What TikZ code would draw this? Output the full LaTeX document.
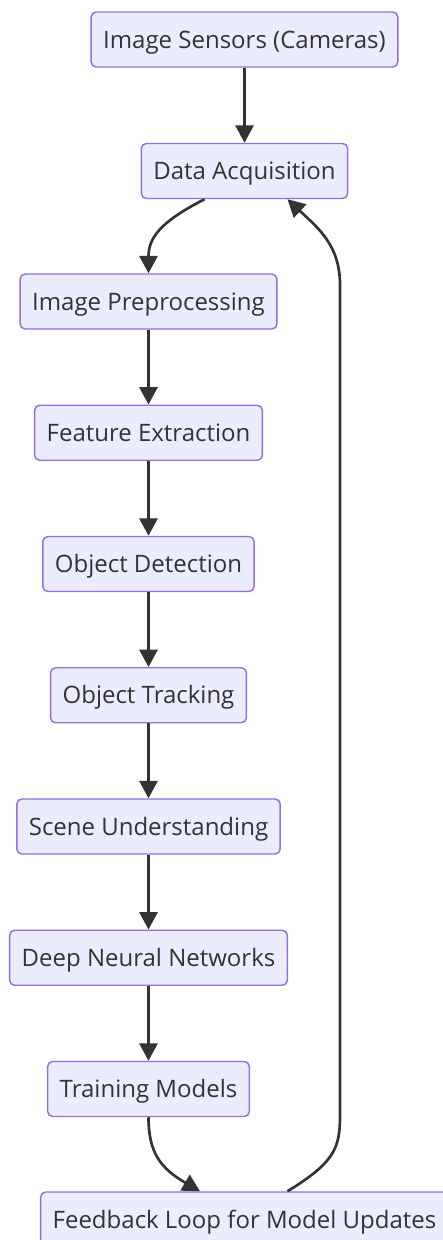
\documentclass[tikz,border=0pt]{standalone}
\usepackage{fontspec}
\setmainfont{Open Sans}
\usepackage{xcolor}
\definecolor{nodefill}{HTML}{ECECFF}
\definecolor{nodeline}{HTML}{9370DB}
\definecolor{inkgray}{HTML}{333333}
\usetikzlibrary{arrows.meta,positioning,calc}

\tikzset{
  stage/.style={draw=nodeline,fill=nodefill,line width=1.1pt,rounded corners=3.75pt,
    minimum height=41.25pt,inner xsep=9pt,text height=12.9pt,text depth=0pt,
    text=inkgray,font=\fontsize{18}{22}\selectfont},
  flow/.style={draw=inkgray,line width=2pt,-{Triangle[length=13pt,width=13.5pt]}}
}

\begin{document}
\begin{tikzpicture}[x=0.75pt,y=-0.75pt]
  \clip (0,0) rectangle (443,1240);
  \useasboundingbox (0,0) rectangle (443,1240);
  % Top nodes
  \node[stage] (cam) at (244.5,39.5) {Image Sensors (Cameras)};
  \node[stage] (acq) at (244.5,171) {Data Acquisition};
  % Processing chain
  \foreach \i/\name/\label in {0/prep/Image Preprocessing, 1/feat/Feature Extraction,
      2/det/Object Detection, 3/track/Object Tracking, 4/scene/Scene Understanding,
      5/dnn/Deep Neural Networks, 6/train/Training Models} {
    \pgfmathsetmacro{\ypos}{301.5+131.25*\i}
    \node[stage] (\name) at (148.5,\ypos) {\label};
  }
  \node[stage] (fb) at (244.5,1219.5) {Feedback Loop for Model Updates};
  % Arrows
  \draw[flow] (cam) -- (acq);
  \draw[flow] ($(acq.south)+(-40,0)$) .. controls (160,222) and (148.5,238) .. (prep.north);
  \foreach \a/\b in {prep/feat, feat/det, det/track, track/scene, scene/dnn, dnn/train}
    \draw[flow] (\a) -- (\b);
  \draw[flow] (train.south) .. controls (148.5,1152) and (160,1168) .. ($(fb.north)+(-44.5,0)$);
  % Feedback loop
  \draw[flow] ($(fb.north)+(43,0)$) .. controls (335,1162) and (340,1148) .. (340,1115)
    -- (340,285) .. controls (340,245) and (318,228) .. ($(acq.south)+(43,0)$);
\end{tikzpicture}
\end{document}
